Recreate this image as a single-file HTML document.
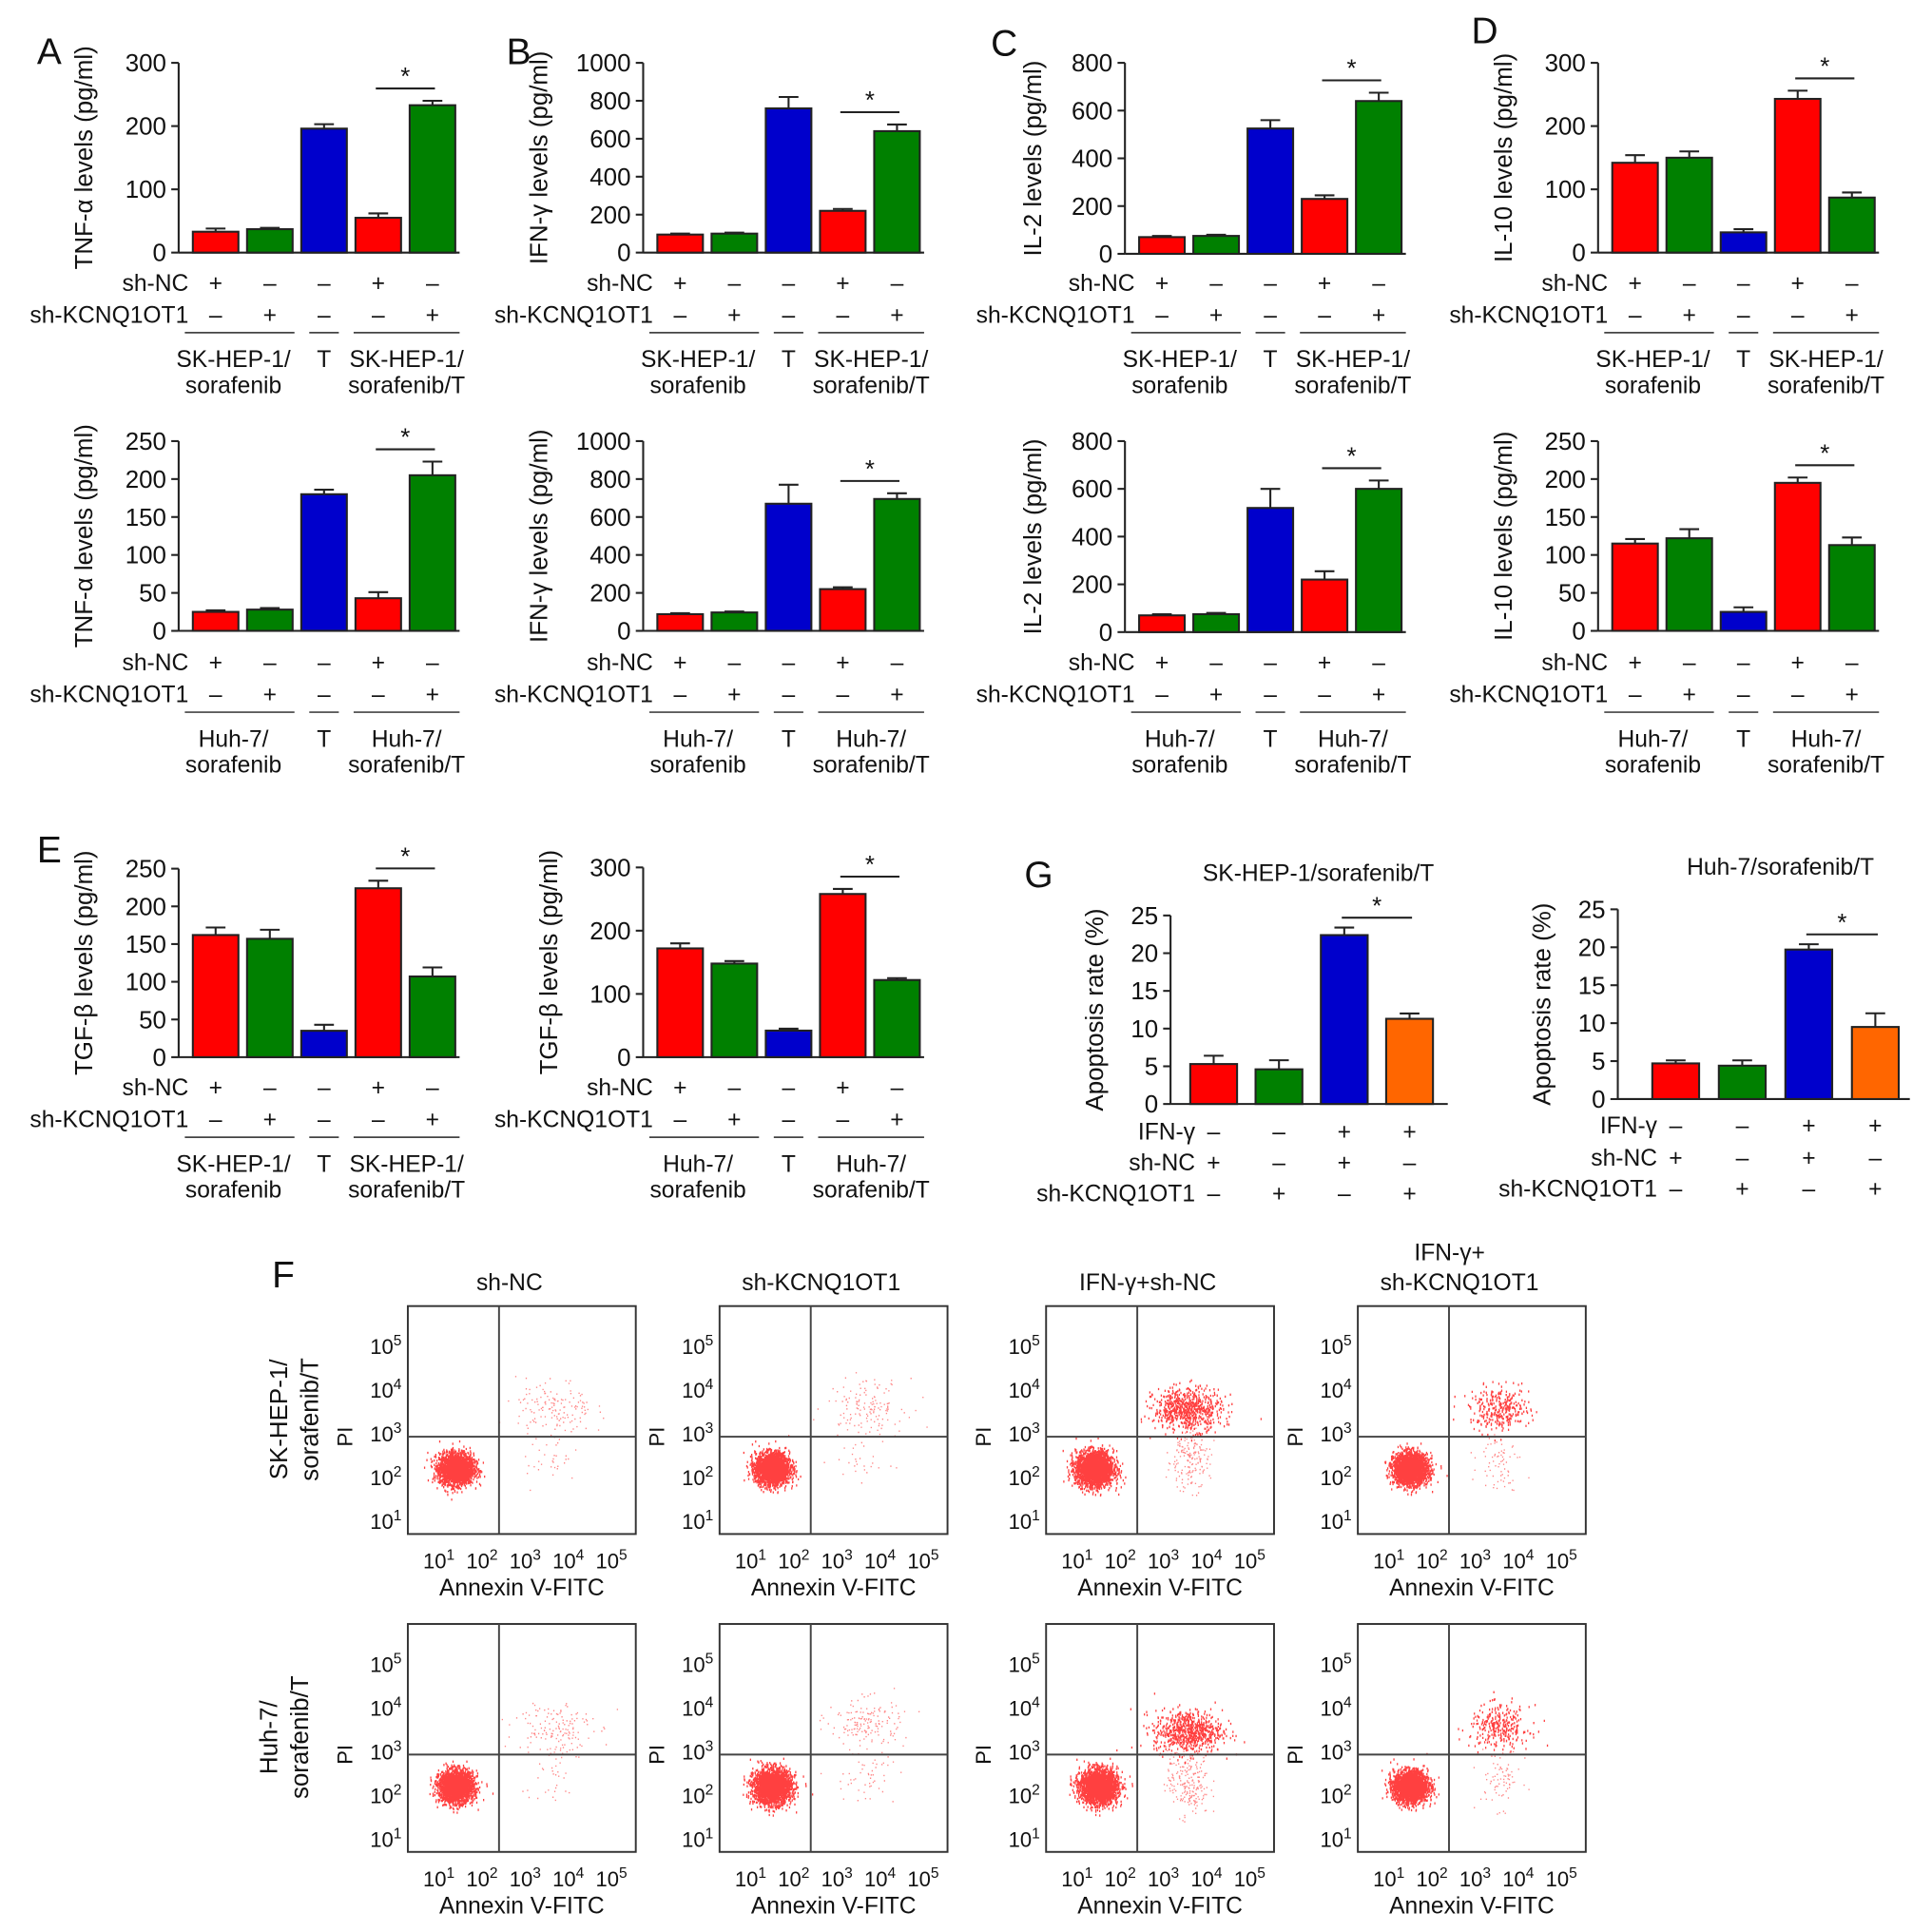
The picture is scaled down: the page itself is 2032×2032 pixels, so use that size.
<!DOCTYPE html>
<html><head><meta charset="utf-8"><style>
html,body{margin:0;padding:0;background:#fff}
svg{display:block}
text{font-family:"Liberation Sans",Arial,sans-serif;fill:#111}
</style></head><body>
<svg id="fig" width="2032" height="2032" viewBox="0 0 1568 1568" xmlns="http://www.w3.org/2000/svg"></svg>
<script>
// ---------- data ----------
const groupsSK = ["SK-HEP-1/|sorafenib","T","SK-HEP-1/|sorafenib/T"];
const groupsHuh = ["Huh-7/|sorafenib","T","Huh-7/|sorafenib/T"];
const shNC5 = ["+","–","–","+","–"];
const shKC5 = ["–","+","–","–","+"];
const colors5 = ["#ff0000","#008000","#0000cc","#ff0000","#008000"];
const ticksTNF1 = [0,100,200,300];
const valsTNF1 = [33,37,196,55,233];
const errsTNF1 = [5,2,7,7,7];
const ticksIFN = [0,200,400,600,800,1000];
const valsIFN1 = [95,100,760,220,640];
const errsIFN1 = [5,5,60,10,35];
const ticksIL2 = [0,200,400,600,800];
const valsIL21 = [70,75,525,230,640];
const errsIL21 = [5,5,35,15,35];
const ticksIL10a = [0,100,200,300];
const valsIL101 = [142,150,32,243,87];
const errsIL101 = [12,10,5,13,8];
const ticks250 = [0,50,100,150,200,250];
const valsTNF2 = [25,28,180,43,205];
const errsTNF2 = [2,2,6,8,18];
const valsIFN2 = [88,97,670,220,695];
const errsIFN2 = [5,5,100,10,30];
const valsIL22 = [70,75,520,220,600];
const errsIL22 = [5,5,80,35,35];
const valsIL102 = [115,122,25,195,113];
const errsIL102 = [6,12,6,7,10];
const valsTGF1 = [162,157,35,224,107];
const errsTGF1 = [10,12,8,10,12];
const ticksTGF2 = [0,100,200,300];
const valsTGF2 = [172,148,42,258,122];
const errsTGF2 = [8,4,3,8,3];
const ticksApop = [0,5,10,15,20,25];
const colors4 = ["#ff0000","#008000","#0000cc","#ff6600"];
const ifnG4 = ["–","–","+","+"];
const shNC4 = ["+","–","+","–"];
const shKC4 = ["–","+","–","+"];
const valsApop1 = [5.3,4.6,22.4,11.3];
const errsApop1 = [1.1,1.2,1.0,0.7];
const valsApop2 = [4.7,4.4,19.7,9.5];
const errsApop2 = [0.4,0.7,0.7,1.8];
// flow clusters: [annexin log10, PI log10, spreadX, spreadY, count, dense(1)/sparse(0)]
const flowSK = [
 [[1.6,2.0,0.2,0.18,2600,1],[3.9,3.4,0.45,0.35,150,0],[3.8,2.2,0.35,0.3,30,0]],
 [[1.7,2.0,0.2,0.18,2600,1],[3.9,3.5,0.45,0.3,140,0],[3.9,2.2,0.35,0.3,30,0]],
 [[1.6,2.0,0.22,0.2,2600,1],[3.8,3.4,0.4,0.25,700,1],[3.8,2.2,0.25,0.35,180,0]],
 [[1.7,2.0,0.2,0.18,2600,1],[3.8,3.4,0.35,0.25,320,1],[3.8,2.2,0.25,0.35,70,0]]
];
const flowHuh = [
 [[1.6,2.0,0.2,0.18,2600,1],[3.9,3.4,0.45,0.35,150,0],[3.8,2.2,0.35,0.3,30,0]],
 [[1.7,2.0,0.22,0.2,2600,1],[3.9,3.5,0.45,0.3,160,0],[3.9,2.2,0.35,0.3,50,0]],
 [[1.7,2.0,0.22,0.2,2600,1],[3.8,3.3,0.4,0.25,700,1],[3.8,2.1,0.25,0.4,220,0]],
 [[1.7,2.0,0.2,0.18,2600,1],[3.8,3.4,0.35,0.25,300,1],[3.8,2.2,0.25,0.35,80,0]]
];
const flowTitles = ["sh-NC","sh-KCNQ1OT1","IFN-γ+sh-NC","IFN-γ+|sh-KCNQ1OT1"];

// ---------- helpers ----------
const NS="http://www.w3.org/2000/svg";
const svg=document.getElementById('fig');
function mk(tag,attrs,name,parent){
  const el=document.createElementNS(NS,tag);
  for(const k in attrs) el.setAttribute(k,attrs[k]);
  
  
  (parent||svg).appendChild(el);
  return el;
}
function txt(x,y,s,size,anchor,name,extra){
  const a=Object.assign({x:x,y:y,'font-size':size,'text-anchor':anchor||'middle'},extra||{});
  const t=mk('text',a,name);
  t.textContent=s;
  return t;
}

function barChart(c){
  const g=mk('g',{},c.name);
  const ys=v=>c.y0-(v/c.max)*(c.y0-c.yTop);
  const xs=i=>c.ax+c.first+i*c.step;
  mk('line',{x1:c.ax,y1:c.yTop,x2:c.ax,y2:c.y0,stroke:'#222','stroke-width':1.6},'y-axis',g);
  mk('line',{x1:c.ax,y1:c.y0,x2:c.ax+c.len,y2:c.y0,stroke:'#222','stroke-width':1.6},'x-axis',g);
  c.ticks.forEach(t=>{
    mk('line',{x1:c.ax-6,y1:ys(t),x2:c.ax,y2:ys(t),stroke:'#222','stroke-width':1.6},'y-tick',g);
    txt(c.ax-10,ys(t)+7,String(t),20,'end','y-tick-label');
  });
  const yc=(c.y0+c.yTop)/2;
  txt(c.ax-c.labOff,yc,c.ylabel,20,'middle','y-axis-title',{transform:`rotate(-90 ${c.ax-c.labOff} ${yc})`});
  c.vals.forEach((v,i)=>{
    const x=xs(i), w=c.bw;
    const ey=ys(v+c.errs[i]);
    mk('line',{x1:x,y1:ys(v),x2:x,y2:ey,stroke:'#222','stroke-width':1.6},'error-bar',g);
    mk('line',{x1:x-8,y1:ey,x2:x+8,y2:ey,stroke:'#222','stroke-width':1.6},'error-cap',g);
    mk('rect',{x:x-w/2,y:ys(v),width:w,height:c.y0-ys(v),fill:c.colors[i],stroke:'#222','stroke-width':1.6},'bar-'+(i+1),g);
  });
  const a=c.sig[0], b=c.sig[1];
  const sy=ys(Math.max(c.vals[a]+c.errs[a],c.vals[b]+c.errs[b]))-c.sigGap;
  mk('line',{x1:xs(a)-2,y1:sy,x2:xs(b)+2,y2:sy,stroke:'#222','stroke-width':1.6},'significance-line',g);
  txt((xs(a)+xs(b))/2,sy-3,'*',20,'middle','significance-star');
  c.rows.forEach((r,ri)=>{
    txt(c.ax+c.rowLabX,c.rowY[ri]+7,r.label,19,'end','row-label-'+r.label);
    r.marks.forEach((m,i)=>txt(xs(i),c.rowY[ri]+7,m,19,'middle','row-mark'));
  });
  if(c.groups){
    const gy=c.rowY[c.rowY.length-1]+15;
    const spans=[[xs(0)-25,xs(1)+20],[xs(2)-12,xs(2)+12],[xs(3)-20,xs(4)+22]];
    spans.forEach((s,i)=>{
      mk('line',{x1:s[0],y1:gy,x2:s[1],y2:gy,stroke:'#444','stroke-width':1.3},'group-line',g);
      const parts=c.groups[i].split('|');
      const cx=(s[0]+s[1])/2+(i==0?-5:0);
      parts.forEach((p,pi)=>txt(cx,gy+28+pi*21,p,19,'middle','group-label'));
    });
  }
}

function std(cfg){return Object.assign({first:30,step:44,bw:37,len:228,labOff:70,rowLabX:8,sigGap:10,sig:[3,4],colors:colors5},cfg);}
const r1=[229,255], r2=[537,563], r3=[882,908];
function rows5(){return [{label:'sh-NC',marks:shNC5},{label:'sh-KCNQ1OT1',marks:shKC5}];}

barChart(std({name:'chart-a-sk',ax:145,y0:205,yTop:51,max:300,ticks:ticksTNF1,vals:valsTNF1,errs:errsTNF1,ylabel:'TNF-α levels (pg/ml)',rows:rows5(),rowY:r1,groups:groupsSK}));
barChart(std({name:'chart-b-sk',ax:522,y0:205,yTop:51,max:1000,ticks:ticksIFN,vals:valsIFN1,errs:errsIFN1,ylabel:'IFN-γ levels (pg/ml)',rows:rows5(),rowY:r1,groups:groupsSK,labOff:78}));
barChart(std({name:'chart-c-sk',ax:913,y0:206,yTop:51,max:800,ticks:ticksIL2,vals:valsIL21,errs:errsIL21,ylabel:'IL-2 levels (pg/ml)',rows:rows5(),rowY:r1,groups:groupsSK,labOff:68}));
barChart(std({name:'chart-d-sk',ax:1297,y0:205,yTop:51,max:300,ticks:ticksIL10a,vals:valsIL101,errs:errsIL101,ylabel:'IL-10 levels (pg/ml)',rows:rows5(),rowY:r1,groups:groupsSK,sig:[3,4]}));
barChart(std({name:'chart-a-huh',ax:145,y0:512,yTop:358,max:250,ticks:ticks250,vals:valsTNF2,errs:errsTNF2,ylabel:'TNF-α levels (pg/ml)',rows:rows5(),rowY:r2,groups:groupsHuh}));
barChart(std({name:'chart-b-huh',ax:522,y0:512,yTop:358,max:1000,ticks:ticksIFN,vals:valsIFN2,errs:errsIFN2,ylabel:'IFN-γ levels (pg/ml)',rows:rows5(),rowY:r2,groups:groupsHuh,labOff:78}));
barChart(std({name:'chart-c-huh',ax:913,y0:513,yTop:358,max:800,ticks:ticksIL2,vals:valsIL22,errs:errsIL22,ylabel:'IL-2 levels (pg/ml)',rows:rows5(),rowY:r2,groups:groupsHuh,labOff:68}));
barChart(std({name:'chart-d-huh',ax:1297,y0:512,yTop:358,max:250,ticks:ticks250,vals:valsIL102,errs:errsIL102,ylabel:'IL-10 levels (pg/ml)',rows:rows5(),rowY:r2,groups:groupsHuh}));
barChart(std({name:'chart-e-sk',ax:145,y0:858,yTop:705,max:250,ticks:ticks250,vals:valsTGF1,errs:errsTGF1,ylabel:'TGF-β levels (pg/ml)',rows:rows5(),rowY:r3,groups:groupsSK}));
barChart(std({name:'chart-e-huh',ax:522,y0:858,yTop:704,max:300,ticks:ticksTGF2,vals:valsTGF2,errs:errsTGF2,ylabel:'TGF-β levels (pg/ml)',rows:rows5(),rowY:r3,groups:groupsHuh}));
function rows4(){return [{label:'IFN-γ',marks:ifnG4},{label:'sh-NC',marks:shNC4},{label:'sh-KCNQ1OT1',marks:shKC4}];}
barChart({name:'chart-g-sk',ax:950,y0:896,yTop:743,max:25,ticks:ticksApop,vals:valsApop1,errs:errsApop1,ylabel:'Apoptosis rate (%)',rows:rows4(),rowY:[918,943,968],colors:colors4,first:35,step:53,bw:38,len:225,labOff:55,rowLabX:20,sigGap:8,sig:[2,3]});
barChart({name:'chart-g-huh',ax:1313,y0:892,yTop:738,max:25,ticks:ticksApop,vals:valsApop2,errs:errsApop2,ylabel:'Apoptosis rate (%)',rows:rows4(),rowY:[913,939,964],colors:colors4,first:47,step:54,bw:38,len:237,labOff:55,rowLabX:32,sigGap:8,sig:[2,3]});
txt(1070,715,'SK-HEP-1/sorafenib/T',19,'middle','chart-g-sk-title');
txt(1445,710,'Huh-7/sorafenib/T',19,'middle','chart-g-huh-title');

[['A',40,52],['B',421,52],['C',815,45],['D',1205,35],['E',40,700],['G',843,720],['F',230,1045]].forEach(p=>txt(p[1],p[2],p[0],30,'middle','panel-letter-'+p[0]));

// ---------- flow plots ----------
let seed=12345;
function rnd(){seed=(seed*1103515245+12345)%2147483648;return seed/2147483648;}
function gauss(){let u=rnd()||1e-6,v=rnd();return Math.sqrt(-2*Math.log(u))*Math.cos(2*Math.PI*v);}
const boxX=[331,584,849,1102], boxTop=[1060,1318], bw=185, bh=185;
function sup(x,y,e,name){
  const t=mk('text',{x:x,y:y,'font-size':17,'text-anchor':'end'},name);
  t.textContent='10';
  const s=mk('tspan',{dy:-7,'font-size':12},name+'-exp',t);
  s.textContent=String(e);
  return t;
}
function flow(bx,by,clusters,name){
  const g=mk('g',{},name);
  const lx=v=>bx+8+(v-0.7)/4.9*(bw-16);
  const ly=v=>by+bh-8-(v-0.7)/4.9*(bh-16);
  mk('rect',{x:bx,y:by,width:bw,height:bh,fill:'#fff',stroke:'#333','stroke-width':1.5},'plot-frame',g);
  clusters.forEach(cl=>{
    let d='';
    for(let i=0;i<cl[4];i++){
      const px=lx(cl[0]+gauss()*cl[2]), py=ly(cl[1]+gauss()*cl[3]);
      if(px<bx+2||px>bx+bw-2||py<by+2||py>by+bh-2)continue;
      d+=`M${px.toFixed(1)} ${py.toFixed(1)}h1`;
    }
    mk('path',{d:d,stroke:'#ff1010','stroke-width':cl[5]?1.8:1.1,'stroke-opacity':cl[5]?0.8:0.5,fill:'none'},'cell-dots',g);
  });
  mk('line',{x1:bx+74,y1:by,x2:bx+74,y2:by+bh,stroke:'#444','stroke-width':1.5},'quadrant-vertical',g);
  mk('line',{x1:bx,y1:by+106,x2:bx+bw,y2:by+106,stroke:'#444','stroke-width':1.5},'quadrant-horizontal',g);
  [1,2,3,4,5].forEach(e=>{
    sup(bx-5,by+bh-4-(e-1)*35.5,e,'y-tick-label');
    sup(bx+30+(e-1)*35+8,by+bh+28,e,'x-tick-label');
  });
  txt(bx+bw/2,by+bh+50,'Annexin V-FITC',19,'middle','x-axis-title');
  txt(bx-45,by+106,'PI',17,'middle','y-axis-title',{transform:`rotate(-90 ${bx-45} ${by+106})`});
}
for(let i=0;i<4;i++){
  flow(boxX[i],boxTop[0],flowSK[i],'flow-sk-'+(i+1));
  flow(boxX[i],boxTop[1],flowHuh[i],'flow-huh-'+(i+1));
  const parts=flowTitles[i].split('|');
  parts.forEach((p,pi)=>txt(boxX[i]+bw/2-10+(parts.length>1&&pi==0?-8:0),1047-(parts.length-1-pi)*24,p,19,'middle','flow-column-title'));
}
txt(233,1152,'SK-HEP-1/',20,'middle','row-label-sk',{transform:'rotate(-90 233 1152)'});
txt(258,1152,'sorafenib/T',20,'middle','row-label-sk',{transform:'rotate(-90 258 1152)'});
txt(225,1410,'Huh-7/',20,'middle','row-label-huh',{transform:'rotate(-90 225 1410)'});
txt(250,1410,'sorafenib/T',20,'middle','row-label-huh',{transform:'rotate(-90 250 1410)'});
</script>
</body></html>
